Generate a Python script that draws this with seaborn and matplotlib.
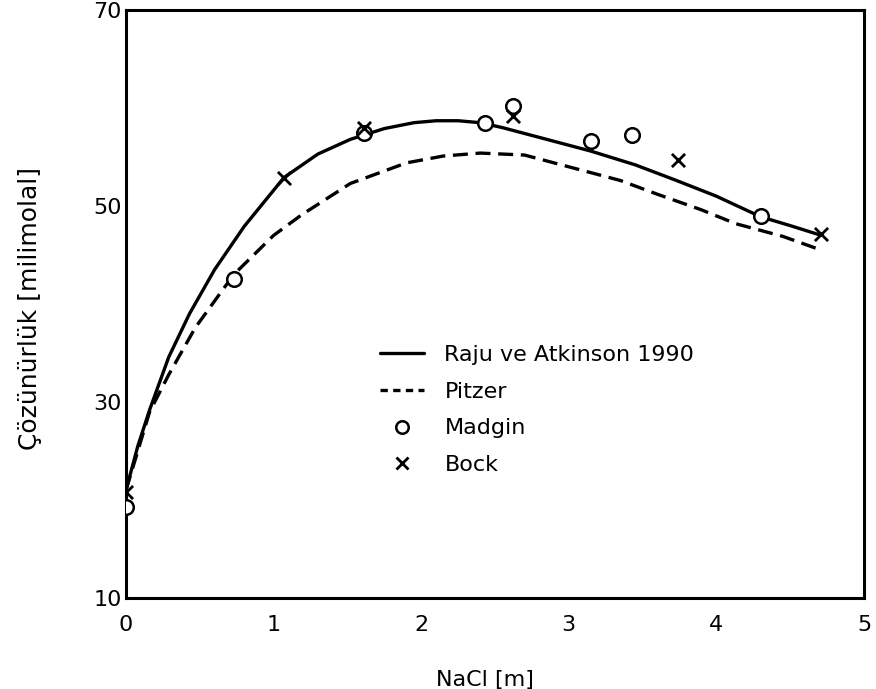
import matplotlib
matplotlib.use("Agg")
import matplotlib.pyplot as plt
from matplotlib.lines import Line2D
import seaborn as sns
import pandas as pd

# ---- data ----
raju_x = [0, 0.08, 0.16, 0.29, 0.43, 0.6, 0.8, 1.07, 1.3, 1.52, 1.75, 1.95, 2.1, 2.25,
          2.4, 2.55, 2.75, 2.95, 3.15, 3.45, 3.73, 4.0, 4.3, 4.5, 4.69]
raju_y = [21.0, 25.5, 29.2, 34.6, 39.0, 43.5, 47.9, 52.9, 55.3, 56.8, 57.9, 58.5, 58.7, 58.7,
          58.5, 58.0, 57.2, 56.4, 55.6, 54.2, 52.6, 51.0, 48.9, 48.0, 47.1]

pitzer_x = [0, 0.08, 0.16, 0.29, 0.47, 0.73, 1.0, 1.19, 1.52, 1.9, 2.15, 2.4, 2.7, 3.05,
            3.35, 3.6, 3.9, 4.13, 4.45, 4.71]
pitzer_y = [21.0, 25.0, 29.0, 32.8, 37.6, 43.0, 47.0, 49.1, 52.3, 54.4, 55.1, 55.4, 55.2, 53.8,
            52.6, 51.2, 49.6, 48.2, 46.9, 45.5]

madgin_x = [0, 0.73, 1.61, 2.43, 2.62, 3.15, 3.43, 4.30]
madgin_y = [19.3, 42.6, 57.4, 58.5, 60.2, 56.6, 57.2, 49.0]

bock_x = [0, 1.07, 1.61, 2.62, 3.74, 4.71]
bock_y = [20.8, 52.9, 58.0, 59.2, 54.7, 47.1]

x_ticks = [0, 1, 2, 3, 4, 5]
y_ticks = [10, 30, 50, 70]
labels = ["Raju ve Atkinson 1990", "Pitzer", "Madgin", "Bock"]

# ---- styling ----
sns.set_theme(style="white")
plt.rcParams["font.family"] = ["DejaVu Sans"]
plt.rcParams["text.color"] = "black"
plt.rcParams["axes.labelcolor"] = "black"

W, H = 876, 689
fig = plt.figure(figsize=(W / 100, H / 100), dpi=100)
left, right, top, bottom = 126, 864, 10, 598
ax = fig.add_axes([left / W, 1 - bottom / H, (right - left) / W, (bottom - top) / H])

raju = pd.DataFrame({"x": raju_x, "y": raju_y})
pitzer = pd.DataFrame({"x": pitzer_x, "y": pitzer_y})
madgin = pd.DataFrame({"x": madgin_x, "y": madgin_y})
bock = pd.DataFrame({"x": bock_x, "y": bock_y})

lw = 2.4
sns.lineplot(data=raju, x="x", y="y", ax=ax, color="black", linewidth=lw,
             sort=False, estimator=None)
sns.lineplot(data=pitzer, x="x", y="y", ax=ax, color="black", linewidth=lw,
             sort=False, estimator=None, linestyle=(0, (4.5, 2.3)))
sns.scatterplot(data=madgin, x="x", y="y", ax=ax, marker="o", s=110,
                facecolor="white", edgecolor="black", linewidth=1.8, zorder=5)
sns.scatterplot(data=bock, x="x", y="y", ax=ax, marker="x", s=90,
                color="black", linewidth=2.0, zorder=5)

ax.set_xlim(0, 5)
ax.set_ylim(10, 70)
ax.set_xticks(x_ticks)
ax.set_yticks(y_ticks)
ax.set_xticklabels([str(t) for t in x_ticks], fontsize=16)
ax.set_yticklabels([str(t) for t in y_ticks], fontsize=16)
ax.tick_params(axis="x", direction="in", length=6, width=1.8, pad=12, colors="black")
ax.tick_params(axis="y", direction="in", length=6, width=1.8, pad=3, colors="black")

for s in ax.spines.values():
    s.set_visible(True)
    s.set_color("black")
    s.set_linewidth(2.2)

ax.set_xlabel("NaCl [m]", fontsize=16, color="black")
ax.set_ylabel("Çözünürlük [milimolal]", fontsize=18, color="black")
ax.xaxis.set_label_coords((485 - left) / (right - left), -(670 - bottom) / (bottom - top))
ax.yaxis.set_label_coords(-(left - 42) / (right - left), (bottom - 308) / (bottom - top))
ax.grid(False)

handles = [
    Line2D([], [], color="black", linewidth=lw),
    Line2D([], [], color="black", linewidth=lw, linestyle=(0, (2.2, 1.6))),
    Line2D([], [], color="black", marker="o", linestyle="none", markersize=9,
           markerfacecolor="white", markeredgewidth=1.8),
    Line2D([], [], color="black", marker="x", linestyle="none", markersize=8,
           markeredgewidth=2.0),
]
leg = fig.legend(handles, labels, loc="upper left",
                 bbox_to_anchor=(380 / W, 1 - 345 / H), frameon=False, fontsize=16,
                 handlelength=2.0, handletextpad=0.9, labelspacing=0.75,
                 borderpad=0, borderaxespad=0)
for t in leg.get_texts():
    t.set_color("black")

fig.savefig("out.png", dpi=100)
